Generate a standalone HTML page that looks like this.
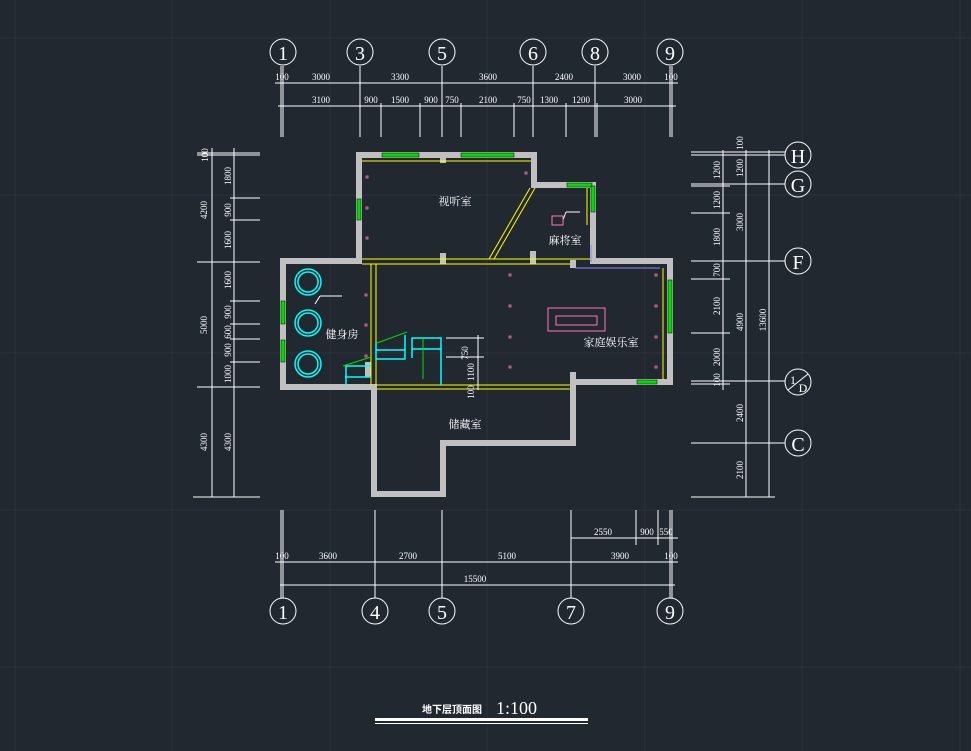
<!DOCTYPE html><html><head><meta charset="utf-8"><style>
html,body{margin:0;padding:0;background:#212830;}
svg{display:block}
text{font-family:"Liberation Serif","Noto Serif CJK SC",serif;fill:#fff}
.s{font-family:"Liberation Sans","Noto Sans CJK SC",sans-serif;}
</style></head><body>
<svg width="971" height="751" viewBox="0 0 971 751" xmlns="http://www.w3.org/2000/svg">
<rect width="971" height="751" fill="#212830"/>
<g stroke="#2a323c" stroke-width="1">
<line x1="15" y1="0" x2="15" y2="751"/><line x1="172" y1="0" x2="172" y2="751"/><line x1="330" y1="0" x2="330" y2="751"/><line x1="487" y1="0" x2="487" y2="751"/><line x1="645" y1="0" x2="645" y2="751"/><line x1="802" y1="0" x2="802" y2="751"/><line x1="960" y1="0" x2="960" y2="751"/>
<line x1="0" y1="38" x2="971" y2="38"/><line x1="0" y1="195" x2="971" y2="195"/><line x1="0" y1="353" x2="971" y2="353"/><line x1="0" y1="510" x2="971" y2="510"/><line x1="0" y1="667" x2="971" y2="667"/>
</g>
<g stroke="#fff" stroke-width="1" fill="none">
<line x1="275" y1="83" x2="678" y2="83"/><line x1="278" y1="106" x2="676" y2="106"/>
<line x1="281" y1="66" x2="281" y2="137"/><line x1="283" y1="66" x2="283" y2="137"/>
<line x1="360" y1="66" x2="360" y2="137"/><line x1="381" y1="103" x2="381" y2="137"/><line x1="420" y1="103" x2="420" y2="137"/>
<line x1="442" y1="66" x2="442" y2="137"/><line x1="461" y1="103" x2="461" y2="137"/><line x1="514" y1="103" x2="514" y2="137"/>
<line x1="533" y1="66" x2="533" y2="137"/><line x1="566" y1="103" x2="566" y2="137"/><line x1="595" y1="66" x2="595" y2="137"/><line x1="597" y1="103" x2="597" y2="137"/>
<line x1="670" y1="66" x2="670" y2="137"/><line x1="672" y1="66" x2="672" y2="137"/>
<line x1="212" y1="148" x2="212" y2="497"/><line x1="234" y1="148" x2="234" y2="497"/>
<line x1="197" y1="153" x2="260" y2="153"/><line x1="197" y1="155" x2="260" y2="155"/>
<line x1="197" y1="262" x2="260" y2="262"/><line x1="197" y1="387" x2="260" y2="387"/><line x1="193" y1="497" x2="260" y2="497"/>
<line x1="230" y1="198" x2="260" y2="198"/><line x1="230" y1="220" x2="260" y2="220"/><line x1="230" y1="301" x2="260" y2="301"/><line x1="230" y1="324" x2="260" y2="324"/><line x1="230" y1="339" x2="260" y2="339"/><line x1="230" y1="362" x2="260" y2="362"/>
<line x1="723" y1="150" x2="723" y2="390"/><line x1="746" y1="150" x2="746" y2="497"/><line x1="769" y1="150" x2="769" y2="497"/>
<line x1="691" y1="152" x2="785" y2="152"/><line x1="691" y1="155" x2="785" y2="155"/><line x1="691" y1="184" x2="785" y2="184"/><line x1="691" y1="186" x2="730" y2="186"/>
<line x1="691" y1="213" x2="730" y2="213"/><line x1="691" y1="261" x2="785" y2="261"/><line x1="691" y1="279" x2="730" y2="279"/><line x1="691" y1="333" x2="730" y2="333"/>
<line x1="691" y1="381" x2="785" y2="381"/><line x1="691" y1="384" x2="730" y2="384"/><line x1="691" y1="443" x2="785" y2="443"/><line x1="691" y1="497" x2="775" y2="497"/>
<line x1="275" y1="562" x2="678" y2="562"/><line x1="280" y1="585" x2="675" y2="585"/><line x1="571" y1="538" x2="678" y2="538"/>
<line x1="281" y1="510" x2="281" y2="598"/><line x1="283" y1="510" x2="283" y2="598"/><line x1="375" y1="510" x2="375" y2="598"/><line x1="442" y1="510" x2="442" y2="598"/><line x1="571" y1="510" x2="571" y2="598"/>
<line x1="636" y1="510" x2="636" y2="545"/><line x1="658" y1="510" x2="658" y2="545"/><line x1="670" y1="510" x2="670" y2="598"/><line x1="672" y1="510" x2="672" y2="598"/>
<circle cx="283" cy="52" r="13"/><circle cx="360" cy="52" r="13"/><circle cx="442" cy="52" r="13"/><circle cx="533" cy="52" r="13"/><circle cx="595" cy="52" r="13"/><circle cx="670" cy="52" r="13"/>
<circle cx="283" cy="611" r="13"/><circle cx="375" cy="611" r="13"/><circle cx="442" cy="611" r="13"/><circle cx="571" cy="611" r="13"/><circle cx="670" cy="611" r="13"/>
<circle cx="798" cy="155" r="13"/><circle cx="798" cy="184" r="13"/><circle cx="798" cy="261" r="13"/><circle cx="798" cy="382" r="13"/><circle cx="798" cy="443" r="13"/>
<line x1="788" y1="390" x2="808" y2="374"/>
</g>
<g font-size="20" text-anchor="middle">
<text x="283" y="60">1</text><text x="360" y="60">3</text><text x="442" y="60">5</text><text x="533" y="60">6</text><text x="595" y="60">8</text><text x="670" y="60">9</text>
<text x="283" y="619">1</text><text x="375" y="619">4</text><text x="442" y="619">5</text><text x="571" y="619">7</text><text x="670" y="619">9</text>
<text x="798" y="163">H</text><text x="798" y="192">G</text><text x="798" y="269">F</text><text x="798" y="451">C</text>
<text x="793" y="384" font-size="12">1</text><text x="803" y="392" font-size="12">D</text>
</g>
<g font-size="9" text-anchor="middle" class="s">
<text x="282" y="80">100</text><text x="321" y="80">3000</text><text x="400" y="80">3300</text><text x="488" y="80">3600</text><text x="564" y="80">2400</text><text x="632" y="80">3000</text><text x="671" y="80">100</text>
<text x="321" y="103">3100</text><text x="371" y="103">900</text><text x="400" y="103">1500</text><text x="431" y="103">900</text><text x="452" y="103">750</text><text x="488" y="103">2100</text><text x="524" y="103">750</text><text x="549" y="103">1300</text><text x="581" y="103">1200</text><text x="633" y="103">3000</text>
<text x="282" y="559">100</text><text x="328" y="559">3600</text><text x="408" y="559">2700</text><text x="507" y="559">5100</text><text x="620" y="559">3900</text><text x="671" y="559">100</text>
<text x="475" y="582">15500</text><text x="603" y="535">2550</text><text x="647" y="535">900</text><text x="666" y="535">550</text>
</g>
<g font-size="9" text-anchor="middle" class="s">
<g transform="rotate(-90)">
<text x="-155" y="208">100</text><text x="-176" y="231">1800</text><text x="-210" y="207">4200</text><text x="-210" y="231">900</text><text x="-240" y="231">1600</text>
<text x="-280" y="231">1600</text><text x="-325" y="207">5000</text><text x="-312" y="231">900</text><text x="-332" y="231">600</text><text x="-350" y="231">900</text><text x="-374" y="231">1000</text>
<text x="-442" y="207">4300</text><text x="-442" y="231">4300</text>
<text x="-143" y="743">100</text><text x="-170" y="720">1200</text><text x="-168" y="743">1200</text><text x="-200" y="720">1200</text><text x="-222" y="743">3000</text><text x="-237" y="720">1800</text>
<text x="-270" y="720">700</text><text x="-306" y="720">2100</text><text x="-322" y="743">4900</text><text x="-320" y="766">13600</text><text x="-357" y="720">2000</text><text x="-380" y="720">100</text>
<text x="-413" y="743">2400</text><text x="-470" y="743">2100</text>
</g></g>
<g fill="#c0c0c0">
<rect x="356" y="152" width="181" height="6"/><rect x="356" y="152" width="6" height="112"/><rect x="531" y="152" width="6" height="36"/><rect x="531" y="182" width="65" height="6"/><rect x="590" y="182" width="6" height="82"/>
<rect x="280" y="258" width="82" height="6"/><rect x="280" y="258" width="6" height="132"/><rect x="280" y="384" width="97" height="6"/>
<rect x="667" y="258" width="6" height="127"/><rect x="570" y="379" width="103" height="6"/><rect x="570" y="372" width="6" height="74"/>
<rect x="371" y="385" width="6" height="112"/><rect x="371" y="491" width="75" height="6"/><rect x="440" y="440" width="6" height="57"/><rect x="440" y="440" width="136" height="6"/>
<rect x="440" y="158" width="6" height="5"/><rect x="440" y="253" width="6" height="11"/><rect x="530" y="251" width="6" height="13"/><rect x="570" y="260" width="6" height="8"/><rect x="365" y="362" width="6" height="15"/>
<rect x="590" y="258" width="83" height="6"/>
</g>
<g stroke="#ffff00" stroke-width="1" fill="none">
<line x1="362" y1="161" x2="531" y2="161"/><line x1="362" y1="259" x2="590" y2="259"/><line x1="362" y1="264" x2="570" y2="264"/>
<line x1="371" y1="264" x2="371" y2="385"/><line x1="376" y1="264" x2="376" y2="385"/>
<line x1="377" y1="385" x2="570" y2="385"/><line x1="377" y1="389" x2="570" y2="389"/>
<line x1="530" y1="188" x2="489" y2="259"/><line x1="535" y1="188" x2="494" y2="259"/>
<line x1="663" y1="268" x2="663" y2="380"/><line x1="587" y1="188" x2="587" y2="225"/>
</g>
<g fill="#00e000" stroke="#000" stroke-width="0.5">
<rect x="382" y="153" width="37" height="4"/><rect x="461" y="153" width="53" height="4"/><rect x="357" y="199" width="4" height="21"/><rect x="567" y="183" width="25" height="4"/><rect x="591" y="186" width="4" height="26"/>
<rect x="281" y="301" width="4" height="23"/><rect x="281" y="340" width="4" height="22"/><rect x="668" y="280" width="4" height="53"/><rect x="637" y="380" width="20" height="4"/>
</g>
<g stroke="#ff77bb" fill="none" stroke-width="0.8">
<rect x="366" y="176" width="2" height="2"/><rect x="366" y="207" width="2" height="2"/><rect x="366" y="237" width="2" height="2"/><rect x="525" y="172" width="2" height="2"/>
<rect x="365" y="294" width="2" height="2"/><rect x="365" y="324" width="2" height="2"/><rect x="365" y="355" width="2" height="2"/>
<rect x="509" y="274" width="2" height="2"/><rect x="509" y="305" width="2" height="2"/><rect x="509" y="336" width="2" height="2"/><rect x="509" y="366" width="2" height="2"/>
<rect x="655" y="274" width="2" height="2"/><rect x="655" y="305" width="2" height="2"/><rect x="655" y="336" width="2" height="2"/><rect x="655" y="366" width="2" height="2"/>
</g>
<g stroke="#00ffff" stroke-width="1.5" fill="none">
<circle cx="308" cy="282" r="13"/><circle cx="308" cy="282" r="10"/>
<circle cx="308" cy="323" r="13"/><circle cx="308" cy="323" r="10"/>
<circle cx="308" cy="364" r="13"/><circle cx="308" cy="364" r="10"/>
<polyline points="376,343 376,359 405,359 405,335" /><polyline points="412,358 412,338 441,338 441,385"/><line x1="376" y1="350" x2="405" y2="350"/><line x1="412" y1="349" x2="441" y2="349"/><line x1="345" y1="366" x2="371" y2="366"/><line x1="345" y1="377" x2="371" y2="377"/><line x1="346" y1="366" x2="346" y2="385"/>
</g>
<g stroke="#00e000" fill="none"><polyline points="377,343 407,332"/><polyline points="343,366 371,357"/><line x1="423" y1="338" x2="423" y2="379"/></g>
<g stroke="#fff"><line x1="446" y1="338" x2="484" y2="338"/><line x1="446" y1="357" x2="484" y2="357"/><line x1="478" y1="335" x2="478" y2="390"/><line x1="315" y1="304" x2="320" y2="296"/><line x1="320" y1="296" x2="342" y2="296"/><line x1="563" y1="220" x2="566" y2="212"/><line x1="566" y1="212" x2="580" y2="212"/></g>
<g stroke="#ff77bb" fill="none"><rect x="548" y="308" width="57" height="23"/><rect x="556" y="316" width="41" height="9"/><rect x="552" y="216" width="11" height="9"/></g>
<g stroke="#8888ff" fill="none"><line x1="575" y1="268" x2="660" y2="268"/><line x1="591" y1="245" x2="591" y2="262"/></g>
<g font-size="11" text-anchor="middle" class="s">
<text x="455" y="205">视听室</text><text x="565" y="244">麻将室</text><text x="342" y="338">健身房</text><text x="611" y="346">家庭娱乐室</text><text x="465" y="428">储藏室</text>
<text x="468" y="353" font-size="9" transform="rotate(-90 468 353)">750</text><text x="474" y="372" font-size="9" transform="rotate(-90 474 372)">1100</text><text x="474" y="392" font-size="9" transform="rotate(-90 474 392)">100</text>
</g>
<text x="452" y="713" font-size="10" class="s" font-weight="bold" text-anchor="middle">地下层顶面图</text>
<text x="496" y="714" font-size="18">1:100</text>
<rect x="375" y="718" width="213" height="3" fill="#fff"/><rect x="375" y="723" width="213" height="1" fill="#fff"/>
</svg>
</body></html>
